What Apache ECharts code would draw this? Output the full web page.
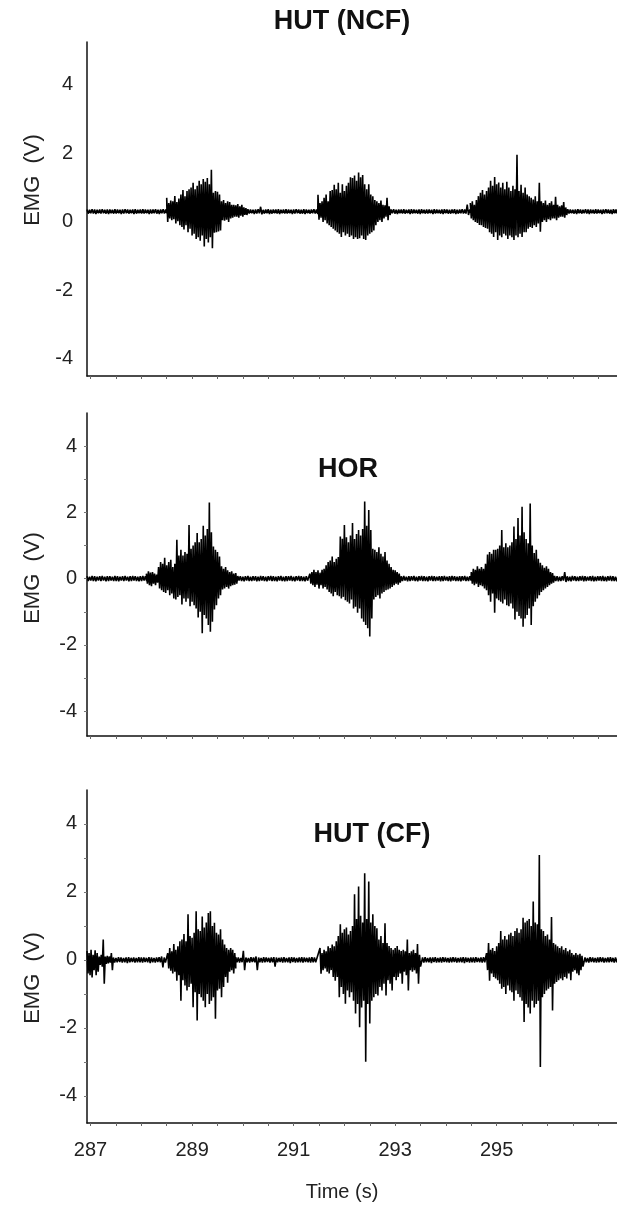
<!DOCTYPE html>
<html>
<head>
<meta charset="utf-8">
<script src="https://cdn.jsdelivr.net/npm/echarts@6/dist/echarts.min.js"></script>
<style>
  html, body { margin: 0; padding: 0; background: #fff; }
  #chart { width: 617px; height: 1205px; }
</style>
</head>
<body>
<div id="chart"></div>
<script>
// ---- axes -------------------------------------------------------------
const timeMin = 286.93, timeMax = 297.37;
const timeTicks = [287, 287.5, 288, 288.5, 289, 289.5, 290, 290.5, 291, 291.5, 292, 292.5,
                   293, 293.5, 294, 294.5, 295, 295.5, 296, 296.5, 297];
const timeLabels = [287, 289, 291, 293, 295];
const voltLabels = [-4, -2, 0, 2, 4];
const voltTicks = [-4, -3, -2, -1, 0, 1, 2, 3, 4];
const panelTitles = ['HUT (NCF)', 'HOR', 'HUT (CF)'];

// ---- EMG traces ---------------------------------------------------------
// Each trace is split into segments. Segment k starts at *Start[k] (s) with a
// column spacing of *Step[k] (s); every column holds the upper (*High) and the
// lower (*Low) excursion of the signal in volts.

// HUT (NCF)
const ncfStart = [286.93, 288.50, 290.10, 291.48, 292.92, 294.48, 296.40];
const ncfStep  = [0.05, 0.04, 0.05, 0.04, 0.05, 0.04, 0.05];
const ncfHigh = [
  [0.36,0.35,0.37,0.36,0.35,0.36,0.37,0.35, 0.36,0.36,0.35,0.37,0.36,0.35,0.36,0.37,
   0.36,0.35,0.36,0.37,0.35,0.36,0.37,0.36, 0.35,0.36,0.36,0.37,0.35,0.36,0.37,0.36],
  [0.7,0.55,0.62,0.6,0.75,0.58,0.68,0.8,0.93,0.75,0.9,0.95,1.0,1.14,0.95,1.05,1.2,1.1,
   1.25,1.17,1.28,1.1,1.52,0.85,0.9,0.88,0.8,0.6,0.64,0.55,0.6,0.58,0.5,0.5,0.48,0.52,0.45,0.5,0.42,0.4],
  [0.37,0.36,0.35,0.36,0.37,0.44,0.35,0.36, 0.37,0.35,0.36,0.36,0.37,0.35,0.36,0.37,
   0.36,0.35,0.36,0.37,0.36,0.35,0.37,0.36, 0.35,0.36,0.37,0.36],
  [0.79,0.55,0.6,0.7,0.8,0.6,0.9,0.93,1.08,0.95,1.14,0.85,1.1,0.9,1.05,1.14,1.3,1.28,1.35,1.2,
   1.44,1.3,1.37,1.1,0.95,1.1,0.8,0.75,0.64,0.6,0.55,0.62,0.5,0.48,0.7,0.45],
  [0.36,0.37,0.35,0.36,0.36,0.37,0.35,0.36, 0.37,0.36,0.35,0.36,0.37,0.35,0.36,0.36,
   0.35,0.37,0.36,0.35,0.36,0.37,0.36,0.35, 0.36,0.37,0.35,0.36,0.37,0.36,0.5,0.36],
  [0.55,0.6,0.5,0.64,0.75,0.85,0.93,0.8,0.9,1.0,1.2,1.05,1.31,1.1,1.15,1.0,1.14,0.95,1.17,1.0,
   0.9,1.05,0.95,1.96,0.9,1.08,0.85,1.0,0.8,0.75,0.7,0.65,0.75,0.6,1.14,0.6,0.55,0.62,0.5,0.55,
   0.6,0.5,0.73,0.5,0.45,0.48,0.58,0.42],
  [0.37,0.36,0.35,0.36,0.37,0.36,0.35,0.37, 0.36,0.36,0.35,0.37,0.36,0.35,0.36,0.37,
   0.36,0.35,0.37,0.36,0.36]
];
const ncfLow = [
  [0.24,0.25,0.24,0.23,0.25,0.24,0.25,0.24, 0.23,0.25,0.24,0.24,0.25,0.23,0.24,0.25,
   0.24,0.25,0.23,0.24,0.25,0.24,0.24,0.25, 0.23,0.24,0.25,0.24,0.23,0.25,0.24,0.25],
  [0.0,0.1,0.05,0.08,-0.05,0.02,-0.1,-0.15,-0.22,-0.1,-0.3,-0.2,-0.4,-0.35,-0.5,-0.45,-0.55,-0.4,
   -0.72,-0.5,-0.6,-0.45,-0.77,-0.32,-0.3,-0.28,-0.25,0.05,0.03,0.06,0.0,0.1,0.12,0.15,0.15,0.12,0.18,0.15,0.2,0.2],
  [0.24,0.25,0.23,0.24,0.25,0.22,0.24,0.25, 0.23,0.24,0.25,0.24,0.23,0.25,0.24,0.24,
   0.25,0.23,0.24,0.25,0.24,0.24,0.23,0.25, 0.24,0.25,0.24,0.23],
  [0.06,0.12,0.0,0.05,-0.05,-0.1,-0.15,-0.2,-0.25,-0.3,-0.35,-0.44,-0.3,-0.4,-0.35,-0.44,-0.4,-0.5,-0.45,-0.5,
   -0.48,-0.4,-0.5,-0.53,-0.4,-0.35,-0.3,-0.25,-0.1,0.0,0.05,0.0,0.1,0.15,0.05,0.2],
  [0.25,0.24,0.23,0.25,0.24,0.24,0.25,0.23, 0.24,0.25,0.24,0.23,0.25,0.24,0.24,0.25,
   0.23,0.24,0.25,0.24,0.23,0.25,0.24,0.24, 0.25,0.23,0.24,0.25,0.24,0.24,0.2,0.25],
  [0.1,0.05,0.0,-0.03,-0.09,-0.1,-0.15,-0.18,-0.2,-0.3,-0.35,-0.44,-0.3,-0.53,-0.4,-0.45,-0.35,-0.4,-0.5,-0.4,
   -0.45,-0.53,-0.4,-0.45,-0.35,-0.44,-0.3,-0.3,-0.2,-0.15,-0.18,-0.1,-0.15,-0.05,-0.29,0.0,0.05,0.0,0.08,0.05,
   0.1,0.1,0.05,0.12,0.15,0.15,0.12,0.2],
  [0.24,0.25,0.24,0.23,0.25,0.24,0.25,0.24, 0.23,0.25,0.24,0.24,0.25,0.23,0.24,0.25,
   0.24,0.23,0.25,0.24,0.25]
];

// HOR
const horStart = [286.93, 288.10, 289.90, 291.32, 293.12, 294.50, 296.14];
const horStep  = [0.05, 0.04, 0.05, 0.04, 0.05, 0.04, 0.05];
const horHigh = [
  [0.07,0.06,0.08,0.07,0.06,0.07,0.08,0.06, 0.07,0.07,0.06,0.08,0.07,0.06,0.07,0.08,
   0.06,0.07,0.08,0.07,0.06,0.07,0.08,0.07],
  [0.15,0.22,0.18,0.2,0.15,0.12,0.35,0.5,0.45,0.63,0.4,0.5,0.57,0.35,0.45,1.17,0.7,0.87,0.7,0.8,
   0.75,1.62,0.9,1.0,1.1,1.38,1.1,1.2,1.6,1.3,1.5,2.3,1.4,0.97,0.87,0.8,0.67,0.37,0.3,0.35,
   0.25,0.2,0.22,0.15,0.17],
  [0.08,0.07,0.06,0.07,0.08,0.06,0.07,0.07, 0.06,0.08,0.07,0.06,0.07,0.08,0.07,0.06,
   0.07,0.08,0.06,0.07,0.07,0.08,0.06,0.07, 0.08,0.07,0.06,0.07],
  [0.15,0.2,0.27,0.2,0.25,0.18,0.27,0.3,0.4,0.5,0.55,0.67,0.5,0.6,0.65,1.27,1.2,1.62,1.25,1.1,
   1.3,1.68,1.2,1.35,1.47,1.3,1.5,2.33,1.6,2.07,1.47,0.9,0.87,0.8,0.95,0.75,0.67,0.8,0.55,0.45,
   0.35,0.27,0.25,0.2,0.15],
  [0.07,0.08,0.06,0.07,0.07,0.08,0.06,0.07, 0.08,0.07,0.06,0.07,0.08,0.07,0.06,0.07,
   0.07,0.08,0.06,0.07,0.08,0.07,0.06,0.07, 0.07,0.08,0.06,0.07],
  [0.2,0.3,0.27,0.37,0.3,0.35,0.3,0.45,0.73,0.8,0.75,0.87,0.87,0.9,1.0,1.47,0.95,1.07,0.95,1.0,
   1.1,1.57,1.2,1.83,1.3,2.17,1.4,1.2,1.07,2.27,1.0,0.77,0.87,0.6,0.48,0.4,0.33,0.37,0.3,0.2,0.17],
  [0.08,0.07,0.06,0.07,0.2,0.07,0.06,0.08, 0.07,0.06,0.07,0.08,0.07,0.06,0.07,0.08,
   0.06,0.07,0.07,0.08,0.06,0.07,0.08,0.07, 0.06,0.07]
];
const horLow = [
  [-0.07,-0.06,-0.07,-0.08,-0.06,-0.07,-0.06,-0.08, -0.07,-0.06,-0.07,-0.07,-0.08,-0.06,-0.07,-0.06,
   -0.08,-0.07,-0.06,-0.07,-0.08,-0.07,-0.06,-0.07],
  [-0.15,-0.2,-0.23,-0.15,-0.2,-0.12,-0.3,-0.35,-0.4,-0.43,-0.35,-0.5,-0.45,-0.6,-0.63,-0.55,-0.5,-0.78,-0.6,-0.7,
   -0.6,-0.83,-0.7,-0.8,-0.9,-1.17,-1.0,-1.65,-1.1,-1.2,-1.4,-1.6,-1.3,-0.93,-0.8,-0.6,-0.5,-0.33,-0.3,-0.25,
   -0.3,-0.23,-0.2,-0.18,-0.15],
  [-0.06,-0.07,-0.08,-0.06,-0.07,-0.07,-0.06,-0.08, -0.07,-0.06,-0.07,-0.08,-0.06,-0.07,-0.07,-0.08,
   -0.06,-0.07,-0.08,-0.07,-0.06,-0.07,-0.08,-0.06, -0.07,-0.07,-0.08,-0.06],
  [-0.15,-0.2,-0.25,-0.18,-0.3,-0.2,-0.3,-0.25,-0.33,-0.4,-0.45,-0.53,-0.4,-0.5,-0.53,-0.6,-0.55,-0.65,-0.7,-0.75,
   -0.63,-0.9,-0.85,-1.03,-0.9,-1.2,-1.3,-1.4,-1.5,-1.75,-1.2,-0.63,-0.55,-0.5,-0.6,-0.45,-0.4,-0.35,-0.33,-0.3,
   -0.25,-0.2,-0.15,-0.18,-0.12],
  [-0.07,-0.06,-0.08,-0.07,-0.06,-0.07,-0.08,-0.06, -0.07,-0.07,-0.08,-0.06,-0.07,-0.07,-0.06,-0.08,
   -0.07,-0.06,-0.07,-0.08,-0.06,-0.07,-0.07,-0.08, -0.06,-0.07,-0.07,-0.06],
  [-0.15,-0.2,-0.15,-0.25,-0.2,-0.23,-0.3,-0.35,-0.5,-0.7,-0.45,-1.03,-0.6,-0.65,-0.7,-0.75,-0.63,-0.8,-0.83,-0.75,
   -0.9,-1.23,-1.0,-1.13,-1.2,-1.45,-1.2,-1.1,-0.9,-1.4,-0.83,-0.7,-0.6,-0.5,-0.4,-0.35,-0.3,-0.25,-0.2,-0.15,-0.12],
  [-0.07,-0.08,-0.07,-0.06,-0.1,-0.07,-0.08,-0.06, -0.07,-0.07,-0.06,-0.08,-0.07,-0.06,-0.07,-0.08,
   -0.07,-0.06,-0.07,-0.07,-0.08,-0.06,-0.07,-0.07, -0.08,-0.06]
];

// HUT (CF)
const cfStart = [286.93, 287.45, 288.52, 289.86, 291.52, 293.54, 294.80, 296.74];
const cfStep  = [0.04, 0.05, 0.04, 0.05, 0.04, 0.05, 0.04, 0.05];
const cfHigh = [
  [0.26,0.2,0.3,0.15,0.28,0.2,0.1,0.15,0.6,0.1,0.12,0.1,0.2],
  [0.07,0.06,0.08,0.07,0.06,0.07,0.08,0.06, 0.07,0.06,0.08,0.07,0.07,0.06,0.08,0.07,
   0.06,0.07,0.08,0.1,0.07],
  [0.2,0.35,0.25,0.47,0.3,0.4,0.55,0.6,0.76,0.55,1.34,0.7,0.65,0.8,1.43,0.9,0.85,1.28,0.95,1.1,
   1.38,1.43,1.0,1.09,0.8,0.75,0.9,0.6,0.45,0.35,0.3,0.35,0.3,0.2],
  [0.08,0.07,0.06,0.27,0.07,0.06,0.08,0.07, 0.1,0.07,0.06,0.08,0.07,0.06,0.07,0.08,
   0.07,0.06,0.07,0.08,0.06,0.07,0.08,0.07, 0.06,0.07,0.08,0.07,0.06,0.07,0.08,0.07],
  [0.35,0.2,0.3,0.25,0.4,0.35,0.45,0.4,0.55,0.7,1.05,0.8,0.9,0.95,0.75,0.85,1.0,1.93,1.2,2.16,
   1.3,1.1,2.55,1.2,2.31,1.1,1.34,1.0,0.93,0.6,0.7,0.5,1.08,0.5,0.41,0.35,0.3,0.35,0.41,0.3,
   0.26,0.3,0.25,0.6,0.2,0.25,0.3,0.2,0.47,0.15],
  [0.07,0.08,0.06,0.07,0.07,0.08,0.06,0.07, 0.08,0.07,0.06,0.07,0.08,0.07,0.06,0.07,
   0.08,0.07,0.06,0.07,0.07,0.08,0.06,0.07, 0.08],
  [0.2,0.5,0.3,0.35,0.26,0.4,0.5,0.85,0.6,0.7,0.6,0.75,0.8,0.7,0.85,0.93,0.8,0.9,1.24,1.1,
   1.15,1.2,1.0,1.72,1.1,1.05,3.09,0.9,0.85,0.7,0.75,0.6,1.26,0.5,0.45,0.4,0.35,0.4,0.3,0.35,
   0.25,0.3,0.2,0.15,0.2,0.15,0.18,0.12],
  [0.07,0.06,0.08,0.07,0.06,0.07,0.08,0.07, 0.06,0.07,0.08,0.06,0.07,0.07]
];
const cfLow = [
  [-0.4,-0.45,-0.52,-0.3,-0.45,-0.35,-0.15,-0.2,-0.7,-0.12,-0.1,-0.08,-0.3],
  [-0.08,-0.07,-0.06,-0.08,-0.07,-0.09,-0.07,-0.06, -0.08,-0.07,-0.07,-0.08,-0.06,-0.07,-0.09,-0.07,
   -0.08,-0.06,-0.07,-0.22,-0.08],
  [-0.25,-0.32,-0.4,-0.35,-0.61,-0.45,-1.2,-0.6,-0.75,-0.9,-0.8,-0.7,-1.39,-0.95,-1.78,-1.0,-1.1,-1.2,-1.39,-1.0,
   -1.3,-1.2,-1.1,-1.73,-0.9,-0.85,-1.1,-0.8,-0.5,-0.67,-0.35,-0.3,-0.4,-0.25],
  [-0.07,-0.08,-0.07,-0.3,-0.07,-0.08,-0.06,-0.07, -0.3,-0.07,-0.08,-0.07,-0.06,-0.08,-0.07,-0.2,
   -0.07,-0.06,-0.08,-0.07,-0.07,-0.09,-0.06,-0.08, -0.07,-0.07,-0.08,-0.06,-0.07,-0.08,-0.07,-0.07],
  [-0.41,-0.3,-0.25,-0.35,-0.4,-0.3,-0.5,-0.61,-0.5,-1.1,-0.8,-1.0,-1.29,-0.9,-1.1,-0.95,-1.2,-1.58,-1.3,-1.98,
   -1.4,-1.2,-3.0,-1.3,-1.87,-1.2,-1.1,-1.0,-1.05,-0.8,-0.9,-0.7,-1.05,-0.6,-0.7,-0.9,-0.5,-0.6,-0.5,-0.4,
   -0.7,-0.35,-0.45,-0.9,-0.3,-0.35,-0.3,-0.4,-0.7,-0.2],
  [-0.08,-0.07,-0.07,-0.09,-0.06,-0.08,-0.07,-0.08, -0.06,-0.07,-0.08,-0.07,-0.06,-0.08,-0.07,-0.07,
   -0.09,-0.06,-0.08,-0.07,-0.08,-0.06,-0.07,-0.08, -0.07],
  [-0.3,-0.61,-0.4,-0.5,-0.55,-0.6,-0.7,-0.85,-0.8,-1.0,-0.75,-0.9,-0.95,-1.2,-0.9,-1.0,-1.1,-1.2,-1.83,-1.3,
   -1.4,-1.58,-1.2,-1.4,-1.3,-1.2,-3.15,-1.1,-1.0,-0.9,-0.85,-0.8,-1.49,-0.7,-0.65,-0.6,-0.55,-0.6,-0.5,-0.55,
   -0.4,-0.6,-0.35,-0.3,-0.4,-0.45,-0.3,-0.2],
  [-0.07,-0.08,-0.06,-0.07,-0.08,-0.07,-0.06,-0.08, -0.07,-0.07,-0.06,-0.08,-0.07,-0.07]
];

// Turn the segment columns into a polyline that swings between the
// upper and lower excursion of each column.
function buildTrace(starts, steps, highs, lows) {
  const pts = [];
  starts.forEach(function (t0, k) {
    const dt = steps[k];
    highs[k].forEach(function (hi, i) {
      const t = t0 + i * dt;
      pts.push([t, hi]);
      pts.push([t + dt / 2, lows[k][i]]);
    });
  });
  return pts;
}

const traces = [
  buildTrace(ncfStart, ncfStep, ncfHigh, ncfLow),
  buildTrace(horStart, horStep, horHigh, horLow),
  buildTrace(cfStart, cfStep, cfHigh, cfLow)
];

// ---- layout -------------------------------------------------------------
const FONT = '"Liberation Sans", Arial, Helvetica, sans-serif';
const panels = [
  { top: 42,  height: 334, yMin: -4.5,  yMax: 5.25, yTicks: false, labelMargin: 14, xLabels: false },
  { top: 413, height: 323, yMin: -4.75, yMax: 5,    yTicks: true,  labelMargin: 10, xLabels: false },
  { top: 790, height: 333, yMin: -4.8,  yMax: 5,    yTicks: true,  labelMargin: 10, xLabels: true }
];
const titlePos = [[342, 22], [348, 470], [372, 835]];
const yNamePos = [[33, 180], [33, 578], [33, 978]];

const grids = [], xAxes = [], yAxes = [], series = [], graphics = [];
panels.forEach(function (p, k) {
  grids.push({ left: 87, right: 0, top: p.top, height: p.height, containLabel: false });
  xAxes.push({
    type: 'value', gridIndex: k, min: timeMin, max: timeMax,
    axisLine: { show: true, onZero: false, lineStyle: { color: '#111', width: 1.5 } },
    axisTick: { show: true, customValues: timeTicks, length: 3, lineStyle: { color: '#666', width: 1 } },
    axisLabel: {
      show: p.xLabels, customValues: timeLabels, margin: 17,
      color: '#222', fontSize: 20, fontFamily: FONT
    },
    splitLine: { show: false }
  });
  yAxes.push({
    type: 'value', gridIndex: k, min: p.yMin, max: p.yMax,
    axisLine: { show: true, onZero: false, lineStyle: { color: '#111', width: 1.5 } },
    axisTick: { show: p.yTicks, customValues: voltTicks, length: 3, lineStyle: { color: '#777', width: 1 } },
    axisLabel: {
      customValues: voltLabels, margin: p.labelMargin,
      color: '#222', fontSize: 20, fontFamily: FONT
    },
    splitLine: { show: false }
  });
  series.push({
    type: 'line', xAxisIndex: k, yAxisIndex: k, data: traces[k],
    showSymbol: false, symbol: 'none', sampling: false, animation: false,
    lineStyle: { color: '#000', width: 1.6 }, clip: true
  });
  graphics.push({
    type: 'text', x: titlePos[k][0], y: titlePos[k][1],
    style: {
      text: panelTitles[k], font: 'bold 27px ' + FONT, fill: '#111',
      textAlign: 'center', textVerticalAlign: 'middle', align: 'center', verticalAlign: 'middle'
    }
  });
  graphics.push({
    type: 'text', x: yNamePos[k][0], y: yNamePos[k][1], rotation: Math.PI / 2,
    style: {
      text: 'EMG  (V)', font: '22px ' + FONT, fill: '#222',
      textAlign: 'center', textVerticalAlign: 'middle', align: 'center', verticalAlign: 'middle'
    }
  });
});
graphics.push({
  type: 'text', x: 342, y: 1192,
  style: {
    text: 'Time (s)', font: '20px ' + FONT, fill: '#222',
    textAlign: 'center', textVerticalAlign: 'middle', align: 'center', verticalAlign: 'middle'
  }
});

const chart = echarts.init(document.getElementById('chart'), null, { renderer: 'canvas' });
chart.setOption({
  backgroundColor: '#fff',
  animation: false,
  grid: grids,
  xAxis: xAxes,
  yAxis: yAxes,
  series: series,
  graphic: graphics
});
</script>
</body>
</html>
